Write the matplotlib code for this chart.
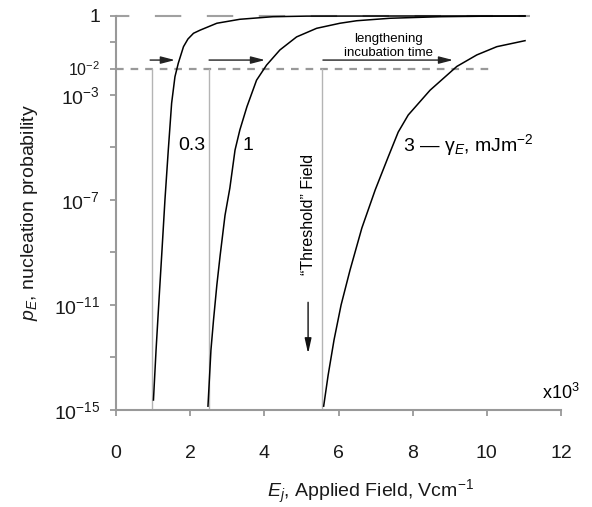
import matplotlib
matplotlib.use("Agg")
import matplotlib.pyplot as plt
from matplotlib.ticker import FixedLocator, FixedFormatter, NullLocator

plt.rcParams['font.family'] = ['Liberation Sans', 'DejaVu Sans']
plt.rcParams['mathtext.fontset'] = 'custom'
plt.rcParams['mathtext.rm'] = 'Liberation Sans'
plt.rcParams['mathtext.it'] = 'Liberation Sans:italic'
plt.rcParams['mathtext.default'] = 'regular'
plt.rcParams['lines.scale_dashes'] = False

# ---- data ----
c03_x = [1.01, 1.08, 1.16, 1.24, 1.32, 1.41, 1.50, 1.59, 1.68, 1.82, 1.94, 2.09, 2.27, 2.72, 3.34, 4.23, 5.14, 7.66, 11.03]
c03_y = [2.4e-15, 1.9e-13, 1.6e-11, 1.2e-9, 1e-7, 7.9e-6, 4.8e-4, 4.9e-3, 1.6e-2, 6.8e-2, 0.133, 0.22, 0.29, 0.53, 0.75, 0.94, 0.99, 1.0, 1.0]

c1_x = [2.48, 2.56, 2.63, 2.72, 2.81, 2.94, 3.07, 3.21, 3.34, 3.53, 3.79, 4.06, 4.42, 4.87, 5.41, 6.04, 6.49, 7.39, 8.74, 9.82, 11.03]
c1_y = [1.4e-15, 1.9e-13, 2.7e-12, 5.8e-11, 8e-10, 2.6e-8, 2.8e-7, 7.9e-6, 4.6e-5, 3.5e-4, 3.6e-3, 1.35e-2, 5.1e-2, 0.16, 0.34, 0.53, 0.66, 0.82, 0.94, 0.98, 1.0]

c3_x = [5.60, 5.72, 5.88, 6.07, 6.31, 6.63, 6.99, 7.34, 7.61, 7.88, 8.47, 9.19, 9.73, 10.27, 11.03]
c3_y = [1.4e-15, 2.1e-14, 4.7e-13, 1e-11, 2.1e-10, 8.5e-9, 2.4e-7, 4.3e-6, 3.8e-5, 1.7e-4, 1.5e-3, 1.2e-2, 3.3e-2, 6.8e-2, 0.115]

curve_labels = ["0.3", "1"]
label_x = [2.04, 3.56]
label_y = [1.2e-5, 1.2e-5]

threshold_x = [0.97, 2.5, 5.55]       # "threshold" fields
arrow_start = [0.92, 2.51, 5.58]
arrow_end = [1.59, 4.02, 9.09]
arrow_level = 0.021

yticks = [1e-15, 1e-13, 1e-11, 1e-9, 1e-7, 1e-5, 1e-3, 1e-2, 1e-1, 1]
ytick_labels = ["10$^{-15}$", "", "10$^{-11}$", "", "10$^{-7}$", "", "10$^{-3}$", "10$^{-2}$", "", "1"]
xticks = [0, 2, 4, 6, 8, 10, 12]

AX = '#999999'

fig = plt.figure(figsize=(5.92, 5.07), dpi=100)
ax = fig.add_axes([116/592, (507-410)/507, 445/592, 394/507])
ax.set_yscale('log')
ax.set_xlim(0, 12)
ax.set_ylim(1e-15, 1)

# reference dashed levels
ax.plot([0, 11.17], [1, 1], color='#a0a0a0', lw=1.5,
        linestyle=(9.4, (19.0, 18.4)), zorder=1, clip_on=False)
ax.plot([0, 10.1], [1e-2, 1e-2], color='#999999', lw=1.6,
        linestyle=(0, (5.5, 5.0)), zorder=1)

# threshold verticals
for xv in threshold_x:
    ax.plot([xv, xv], [1e-15, 1e-2], color='#b4b4b4', lw=1.0, zorder=1)

# curves
for cx, cy in [(c03_x, c03_y), (c1_x, c1_y), (c3_x, c3_y)]:
    ax.plot(cx, cy, color='black', lw=1.1, zorder=3, clip_on=False,
            solid_joinstyle='round')

# arrows
for xs, xe in zip(arrow_start, arrow_end):
    ax.annotate('', xy=(xe, arrow_level), xytext=(xs, arrow_level),
                arrowprops=dict(arrowstyle='-|>,head_length=0.85,head_width=0.22',
                                color='#222222', lw=1.0, mutation_scale=10,
                                shrinkA=0, shrinkB=0), zorder=4)

ax.annotate('', xy=(5.18, 10**-12.85), xytext=(5.18, 10**-10.9),
            arrowprops=dict(arrowstyle='-|>,head_length=0.9,head_width=0.2',
                            color='#111111', lw=1.0, mutation_scale=10,
                            shrinkA=0, shrinkB=0))

# texts
for t, tx, ty in zip(curve_labels, label_x, label_y):
    ax.text(tx, ty, t, fontsize=14, ha='center', va='center')
ax.text(7.74, 1.2e-5, "3 — γ$_{\\mathit{E}}$, mJm$^{-2}$", fontsize=14,
        ha='left', va='center')
ax.text(5.18, 10**-7.56, "“Threshold” Field", fontsize=11.5, rotation=90,
        ha='center', va='center')
ax.text(7.34, 10**-1.14, "lengthening\nincubation time", fontsize=9.5,
        ha='center', va='center', linespacing=1.15)
ax.text(12.51, 10**-14.35, "x10$^{3}$", fontsize=13, ha='right', va='center')

# axes styling
for s in ['top', 'right']:
    ax.spines[s].set_visible(False)
for s in ['left', 'bottom']:
    ax.spines[s].set_color(AX)
    ax.spines[s].set_linewidth(1.5)

ax.yaxis.set_major_locator(FixedLocator(yticks))
ax.yaxis.set_major_formatter(FixedFormatter(ytick_labels))
ax.yaxis.set_minor_locator(NullLocator())
ax.set_xticks(xticks)
ax.set_xticklabels([str(v) for v in xticks])
ax.tick_params(axis='both', colors=AX, width=1.3, length=4.3, direction='out',
               labelcolor='#1a1a1a', labelsize=14)
ax.tick_params(axis='x', pad=21)
ax.tick_params(axis='y', pad=7)
for lab in ax.get_yticklabels():
    if lab.get_text() == "10$^{-2}$":
        lab.set_fontsize(11.5)

ax.set_ylabel("$\\mathit{p_E}$, nucleation probability", fontsize=14, color='#1a1a1a')
ax.yaxis.set_label_coords(-0.171, 0.5)
ax.set_xlabel("$\\mathit{E_j}$, Applied Field, Vcm$^{-1}$", fontsize=14, color='#1a1a1a')
ax.xaxis.set_label_coords(0.571, -0.173)

fig.savefig("out.png", dpi=100)
